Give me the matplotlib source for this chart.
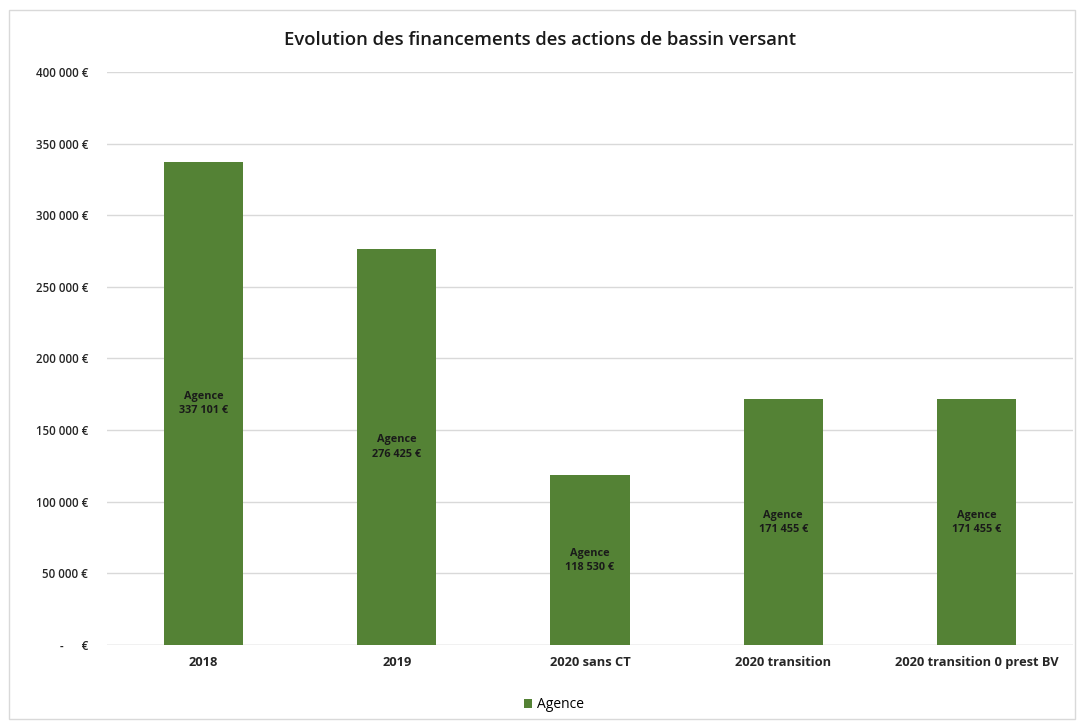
import matplotlib
matplotlib.use("Agg")
import matplotlib.pyplot as plt
from matplotlib.patches import Rectangle

categories = ["2018", "2019", "2020 sans CT", "2020 transition", "2020 transition 0 prest BV"]
agence = [337101, 276425, 118530, 171455, 171455]
series_name = "Agence"
yticks = [0, 50000, 100000, 150000, 200000, 250000, 300000, 350000, 400000]

def fmt(v):
    if v == 0:
        return "-      €"
    return f"{v:,.0f}".replace(",", " ") + " €"

plt.rcParams['font.family'] = ['Open Sans', 'DejaVu Sans']

W, H = 1081, 722
fig = plt.figure(figsize=(W/100, H/100), dpi=100)
ax = fig.add_axes([107/W, 1-645/H, (1073-107)/W, (645-72)/H])

color = "#548235"
x = list(range(len(categories)))
bars = ax.bar(x, agence, width=0.41, color=color, label=series_name, zorder=3)

for xi, v in zip(x, agence):
    ax.text(xi, v/2, f"{series_name}\n{fmt(v)}", ha="center", va="center",
            fontsize=7.8, fontweight="bold", color="#1a1a1a", linespacing=1.4, zorder=4)

ax.set_ylim(0, 400000)
ax.set_xlim(-0.5, len(categories)-0.5)
ax.set_yticks(yticks)
ax.set_yticklabels([fmt(v) for v in yticks], fontsize=8.3, fontweight="semibold", color="#262626")
ax.set_xticks(x)
ax.set_xticklabels(categories, fontsize=9.3, fontweight="bold", color="#262626")
ax.tick_params(axis="both", length=0)
ax.tick_params(axis="y", pad=13.5)
ax.tick_params(axis="x", pad=8)
ax.grid(axis="y", color="#d9d9d9", linewidth=1, zorder=0)
for s in ax.spines.values():
    s.set_visible(False)
ax.axhline(0, color="#d9d9d9", linewidth=1, zorder=2)

fig.text(540/W, 1-40/H, "Evolution des financements des actions de bassin versant",
         ha="center", va="center", fontsize=13.3, fontweight="semibold", color="#1a1a1a")

leg = fig.legend(handles=[bars], labels=[series_name], loc="center", bbox_to_anchor=(554/W, 1-705/H),
                 frameon=False, fontsize=10, handlelength=0.6, handleheight=0.6, handletextpad=0.4)

fig.patches.append(Rectangle((9/W, 3/H), (1075-9)/W, (712-3)/H, transform=fig.transFigure,
                             fill=False, edgecolor="#d9d9d9", linewidth=1))

fig.savefig("out.png", dpi=100)
